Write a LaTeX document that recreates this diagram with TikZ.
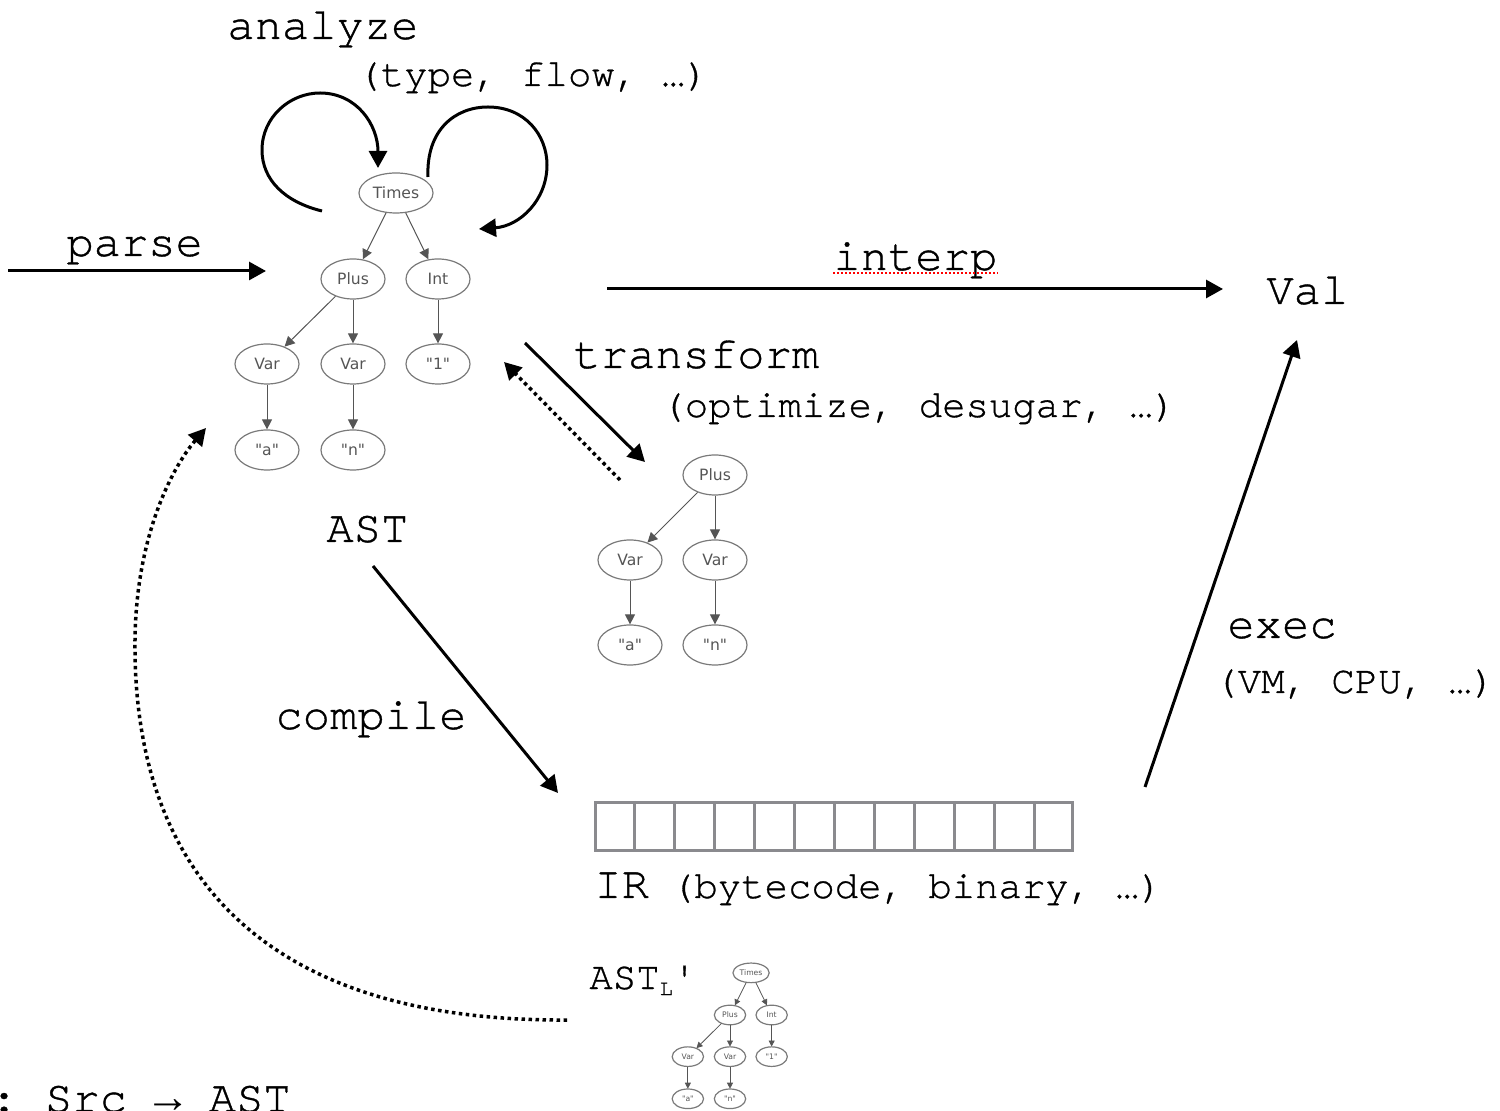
\documentclass[tikz,border=0pt]{standalone}
\usepackage{fontspec}
\IfFontExistsTF{texgyrecursor-regular.otf}
  {\newfontfamily\cour[Ligatures=NoCommon,FakeBold=0.8]{texgyrecursor-regular.otf}}
  {\newfontfamily\cour{Liberation Mono}}
\newfontfamily\libmono{Liberation Mono}
\newfontfamily\treef{DejaVu Sans}
\usetikzlibrary{arrows.meta,shapes.geometric,calc}
\definecolor{tgray}{HTML}{7A7A7A}
\definecolor{ttext}{HTML}{555555}
\definecolor{irgray}{HTML}{8A8A8E}
\frenchspacing
\begin{document}
\begin{tikzpicture}[x=0.5pt,y=-0.5pt,
  big/.style={font=\cour\fontsize{22.75}{24}\selectfont, inner sep=0pt, anchor=base west},
  small/.style={font=\cour\fontsize{19.5}{20}\selectfont, inner sep=0pt, anchor=base west},
  tn/.style={ellipse, draw=tgray, line width=0.6pt, inner sep=0pt, minimum width=32pt, minimum height=20pt,
    font=\treef\fontsize{7.8}{8}\selectfont, text=ttext},
  tw/.style={minimum width=37pt},
  te/.style={draw=ttext, line width=0.5pt, -{Triangle[length=5pt,width=5pt]}},
  tes/.style={draw=ttext, line width=0.4pt, -{Triangle[length=3pt,width=3pt]}},
  bigarrow/.style={line width=1.5pt, -{Triangle[length=8.5pt,width=9pt]}},
  dots/.style={line width=1.75pt, dash pattern=on 1.75pt off 1.75pt, -{Triangle[length=8.5pt,width=9pt]}},
  spell/.style={draw=red, line width=0.9pt, dash pattern=on 1pt off 1pt}
]
\useasboundingbox (0,0) rectangle (1500,1111);

% ---- main AST tree
\begin{scope}[shift={(353,279)}]
  \node[tn] (p) at (0,0) {Plus};
  \node[tn,tw] (t) at (43,-86) {Times};
  \node[tn] (i) at (85,0) {Int};
  \node[tn] (v1) at (-86,85) {Var};
  \node[tn] (v2) at (0,85) {Var};
  \node[tn] (one) at (85,85) {"1"};
  \node[tn] (a) at (-86,171) {"a"};
  \node[tn] (n) at (0,171) {"n"};
  \draw[te] (t) -- (p);
  \draw[te] (t) -- (i);
  \draw[te] (p) -- (v1);
  \draw[te] (p) -- (v2);
  \draw[te] (i) -- (one);
  \draw[te] (v1) -- (a);
  \draw[te] (v2) -- (n);
\end{scope}

% ---- transformed tree
\begin{scope}[shift={(715,475)}]
  \node[tn] (mp) at (0,0) {Plus};
  \node[tn] (mv1) at (-85,85) {Var};
  \node[tn] (mv2) at (0,85) {Var};
  \node[tn] (ma) at (-85,170) {"a"};
  \node[tn] (mn) at (0,170) {"n"};
  \draw[te] (mp) -- (mv1);
  \draw[te] (mp) -- (mv2);
  \draw[te] (mv1) -- (ma);
  \draw[te] (mv2) -- (mn);
\end{scope}

% ---- small AST_L' tree
\begin{scope}[shift={(730,1015)}, scale=0.49, every node/.append style={transform shape}]
  \node[tn] (sp) at (0,0) {Plus};
  \node[tn,tw] (st) at (43,-86) {Times};
  \node[tn] (si) at (85,0) {Int};
  \node[tn] (sv1) at (-86,85) {Var};
  \node[tn] (sv2) at (0,85) {Var};
  \node[tn] (sone) at (85,85) {"1"};
  \node[tn] (sa) at (-86,171) {"a"};
  \node[tn] (sn) at (0,171) {"n"};
  \draw[tes] (st) -- (sp);
  \draw[tes] (st) -- (si);
  \draw[tes] (sp) -- (sv1);
  \draw[tes] (sp) -- (sv2);
  \draw[tes] (si) -- (sone);
  \draw[tes] (sv1) -- (sa);
  \draw[tes] (sv2) -- (sn);
\end{scope}

% ---- IR array
\node[draw=irgray, line width=1.5pt, minimum width=238.5pt, minimum height=24pt, inner sep=0pt] (ir) at (834,826.5) {};
\foreach \k in {1,...,11}
  \draw[irgray, line width=1.5pt] ($(ir.north west)!\k/12!(ir.north east)$) -- ($(ir.south west)!\k/12!(ir.south east)$);

% ---- labels
\node[big] (analyze) at (227,39) {analyze};
\node[small] (analyzep) at (357,86) {(type, flow, …)};
\node[big] (parse) at (66,256) {parse};
\node[big] (interp) at (833,270) {interp};
\node[big] (val) at (1266,304) {Val};
\node[big] (transform) at (573,368) {transform};
\node[small] (transformp) at (661,417) {(optimize, desugar, …)};
\node[big] (ast) at (326,542) {AST};
\node[big] (exec) at (1227,638) {exec};
\node[small] (execp) at (1214,693) {(VM, CPU, …)};
\node[big] (compile) at (275,729) {compile};
\node[big] (irlabel) at (594,898) {IR\hspace{11pt}{\fontsize{19.5}{20}\selectfont(bytecode, binary, …)}};
\node[small] (astl) at (589,989) {AST\raisebox{-3pt}{\fontsize{11}{11}\selectfont L}{\fontsize{19.5}{20}\selectfont '}};
\node[big] (srcast) at (-10,1112) {: Src {\libmono →} AST};

\draw[spell] ([yshift=-1.5pt]interp.base west) -- ([yshift=-1.5pt]interp.base east);

% ---- connectors
\coordinate (parse1) at (8,271);
\coordinate (parse2) at (266,271);
\draw[bigarrow] (parse1) -- (parse2);

\coordinate (interp1) at (607,289);
\coordinate (interp2) at (1223,289);
\draw[bigarrow] (interp1) -- (interp2);

\coordinate (la1) at (322,211);
\coordinate (la2) at (378,168);
\draw[bigarrow] (la1) .. controls (285,202) and (262,180) .. (262,150)
  .. controls (262,117) and (290,93) .. (320,93)
  .. controls (357,93) and (378,125) .. (la2);

\coordinate (ra1) at (428,177);
\coordinate (ra2) at (479,229);
\draw[bigarrow] (ra1) .. controls (426,130) and (455,107) .. (488,107)
  .. controls (525,107) and (547,135) .. (547,165)
  .. controls (547,200) and (520,226) .. (ra2);

\coordinate (tr1) at (525,343);
\coordinate (tr2) at (645,462);
\draw[bigarrow] (tr1) -- (tr2);

\coordinate (bk1) at (620,480);
\coordinate (bk2) at (504,362);
\draw[dots] (bk1) -- (bk2);

\coordinate (cp1) at (373,566);
\coordinate (cp2) at (558,793);
\draw[bigarrow] (cp1) -- (cp2);

\coordinate (ex1) at (1145,787);
\coordinate (ex2) at (1297,340);
\draw[bigarrow] (ex1) -- (ex2);

\coordinate (lp1) at (567,1020);
\coordinate (lp2) at (206,428);
\draw[dots] (lp1) .. controls (230,1022) and (133,840) .. (135,640)
  .. controls (136,540) and (170,470) .. (lp2);
\end{tikzpicture}
\end{document}
